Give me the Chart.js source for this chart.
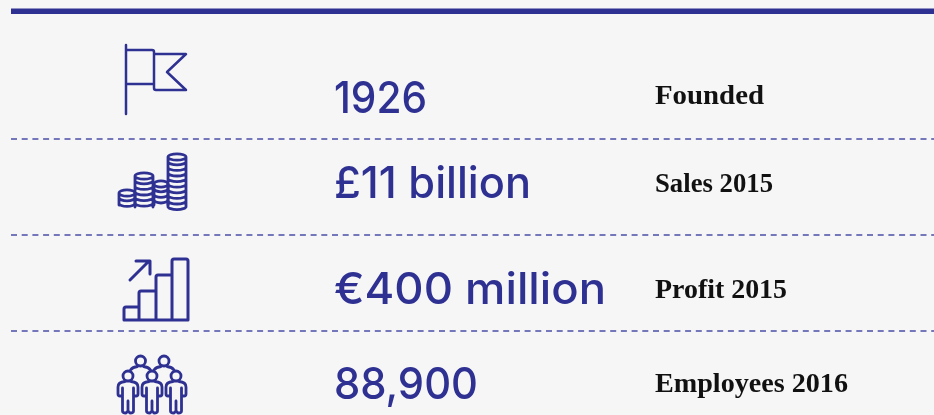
<!DOCTYPE html>
<html>
<head>
<meta charset="utf-8">
<title>Key figures</title>
<script src="https://cdn.jsdelivr.net/npm/chart.js@4"></script>
<style>
  html, body { margin: 0; padding: 0; background: #f6f6f6; }
  #wrap { position: relative; width: 934px; height: 415px; overflow: hidden; }
</style>
</head>
<body>
<div id="wrap"><canvas id="chart" width="934" height="415"></canvas></div>
<script>
// data
const labels = ['Founded', 'Sales 2015', 'Profit 2015', 'Employees 2016'];
const figures = ['1926', '£11 billion', '€400 million', '88,900'];
const icons = ['flag', 'coins', 'bars', 'people'];

// layout, in page pixels (both axes run 0..934 / 0..415)
const BLUE = '#2e3192';
const iconX = 155;
const iconY = [79, 182, 290, 384];
const figureX = 334;
const figureY = [113, 198, 304, 399];
const figureW = [93, 197, 272, 144];
const labelX = 655;
const labelY = [104, 192, 298, 392];
const labelW = [109, 118, 132, 193];
const ruleY = 11.3;
const dividerY = [139, 235, 331];
const leftEdge = 11;
const rightEdge = 934;

function makeIcon(name, cy) {
  const c = document.createElement('canvas');
  c.width = 90; c.height = 90;
  const g = c.getContext('2d');
  g.translate(45 - iconX, 45 - cy);
  g.strokeStyle = BLUE;
  g.lineWidth = 2.5;
  g.lineJoin = 'round';
  g.lineCap = 'round';
  drawers[name](g);
  return c;
}

const drawers = {
  flag(g) {
    g.beginPath();
    g.moveTo(126, 45); g.lineTo(126, 114);
    g.moveTo(126, 50); g.lineTo(152, 50); g.quadraticCurveTo(154, 50, 154, 52);
    g.lineTo(154, 88); g.quadraticCurveTo(154, 90, 156, 90);
    g.lineTo(186, 90); g.lineTo(167, 72); g.lineTo(186, 54); g.lineTo(154, 54);
    g.moveTo(126, 84); g.lineTo(154, 84);
    g.stroke();
  },
  coins(g) {
    // one stack of coins: x centre, half width, top y, bottom y
    const stack = (x, r, top, bottom) => {
      g.lineWidth = 2.8;
      g.beginPath();
      g.ellipse(x, top, r, 3.2, 0, 0, Math.PI * 2);
      for (let y = top + 5.6; y <= bottom; y += 5.6) {
        g.moveTo(x - r, y - 1);
        g.ellipse(x, y - 1, r, 3.2, 0, Math.PI, 0, true);
      }
      g.moveTo(x - r, top); g.lineTo(x - r, bottom - 1);
      g.moveTo(x + r, top); g.lineTo(x + r, bottom - 1);
      g.stroke();
    };
    stack(127, 8, 193, 206);
    stack(161, 7, 184, 206);
    stack(144, 9, 176, 208);
    stack(177, 9, 157, 208);
  },
  bars(g) {
    g.lineWidth = 3;
    g.beginPath();
    g.moveTo(130, 280); g.lineTo(149, 261);
    g.moveTo(136, 261); g.lineTo(150, 261); g.lineTo(150, 274);
    g.stroke();
    g.beginPath();
    g.moveTo(124, 320); g.lineTo(124, 309); g.quadraticCurveTo(124, 307, 126, 307);
    g.lineTo(139, 307); g.moveTo(139, 320); g.lineTo(139, 293);
    g.quadraticCurveTo(139, 291, 141, 291); g.lineTo(156, 291);
    g.moveTo(156, 320); g.lineTo(156, 277); g.quadraticCurveTo(156, 275, 158, 275);
    g.lineTo(172, 275); g.moveTo(172, 320); g.lineTo(172, 261);
    g.quadraticCurveTo(172, 259, 174, 259); g.lineTo(186, 259);
    g.quadraticCurveTo(188, 259, 188, 261); g.lineTo(188, 320); g.lineTo(124, 320);
    g.stroke();
  },
  people(g) {
    g.lineWidth = 2.8;
    const person = (x, y) => {
      g.beginPath();
      g.arc(x, y, 5, 0, Math.PI * 2);
      g.moveTo(x - 3, y + 5.5);
      g.quadraticCurveTo(x - 10, y + 6, x - 10, y + 11);
      g.lineTo(x - 10, y + 18); g.quadraticCurveTo(x - 10, y + 20, x - 8, y + 20);
      g.lineTo(x - 5.5, y + 20); g.moveTo(x - 5.5, y + 12); g.lineTo(x - 5.5, y + 35);
      g.quadraticCurveTo(x - 5.5, y + 37, x - 2, y + 37);
      g.lineTo(x, y + 35); g.lineTo(x, y + 25); g.moveTo(x, y + 35);
      g.lineTo(x + 2, y + 37); g.quadraticCurveTo(x + 5.5, y + 37, x + 5.5, y + 35);
      g.lineTo(x + 5.5, y + 12); g.moveTo(x + 5.5, y + 20); g.lineTo(x + 8, y + 20);
      g.quadraticCurveTo(x + 10, y + 20, x + 10, y + 18);
      g.lineTo(x + 10, y + 11); g.quadraticCurveTo(x + 10, y + 6, x + 3, y + 5.5);
      g.stroke();
    };
    const head = (x, y) => {
      g.beginPath();
      g.arc(x, y, 5, 0, Math.PI * 2);
      g.moveTo(x - 10, y + 9); g.quadraticCurveTo(x - 8, y + 6, x - 3, y + 5.5);
      g.moveTo(x + 10, y + 9); g.quadraticCurveTo(x + 8, y + 6, x + 3, y + 5.5);
      g.stroke();
    };
    head(140.5, 361); head(164, 361);
    person(128, 376); person(152, 376); person(176, 376);
  }
};

function hLine(y, width, color, dash) {
  return {
    type: 'scatter', showLine: true, pointRadius: 0,
    borderColor: color, borderWidth: width, borderDash: dash,
    data: [{ x: leftEdge, y: y }, { x: rightEdge, y: y }]
  };
}

// squeeze or stretch a string sideways so it comes out at the width in the reference
function fitText(ctx, text, px, py, width) {
  const sx = width / ctx.measureText(text).width;
  ctx.save();
  ctx.translate(px, py);
  ctx.scale(sx, 1);
  ctx.fillText(text, 0, 0);
  ctx.restore();
}

const textPlugin = {
  id: 'rowText',
  afterDatasetsDraw(chart) {
    const { ctx, scales: { x, y } } = chart;
    ctx.save();
    ctx.textBaseline = 'alphabetic';
    ctx.textAlign = 'left';
    ctx.font = '500 44px Inter';
    ctx.fillStyle = BLUE;
    figures.forEach((t, i) => {
      fitText(ctx, t, x.getPixelForValue(figureX), y.getPixelForValue(figureY[i]), figureW[i]);
    });
    ctx.font = 'bold 28px "Liberation Serif"';
    ctx.fillStyle = '#111111';
    labels.forEach((t, i) => {
      fitText(ctx, t, x.getPixelForValue(labelX), y.getPixelForValue(labelY[i]), labelW[i]);
    });
    ctx.restore();
  }
};

new Chart(document.getElementById('chart'), {
  type: 'scatter',
  data: {
    datasets: [
      hLine(ruleY, 5.5, BLUE, []),
      ...dividerY.map(d => hLine(d, 1.5, '#4a4da5', [6, 4.7])),
      {
        data: icons.map((n, i) => ({ x: iconX, y: iconY[i] })),
        pointStyle: icons.map((n, i) => makeIcon(n, iconY[i])),
        pointRadius: 30
      }
    ]
  },
  options: {
    responsive: false,
    animation: false,
    layout: { padding: 0, autoPadding: false },
    plugins: { legend: { display: false }, tooltip: { enabled: false } },
    scales: {
      x: { type: 'linear', min: 0, max: 934, display: false },
      y: { type: 'linear', min: 0, max: 415, reverse: true, display: false }
    }
  },
  plugins: [textPlugin]
});
</script>
</body>
</html>
